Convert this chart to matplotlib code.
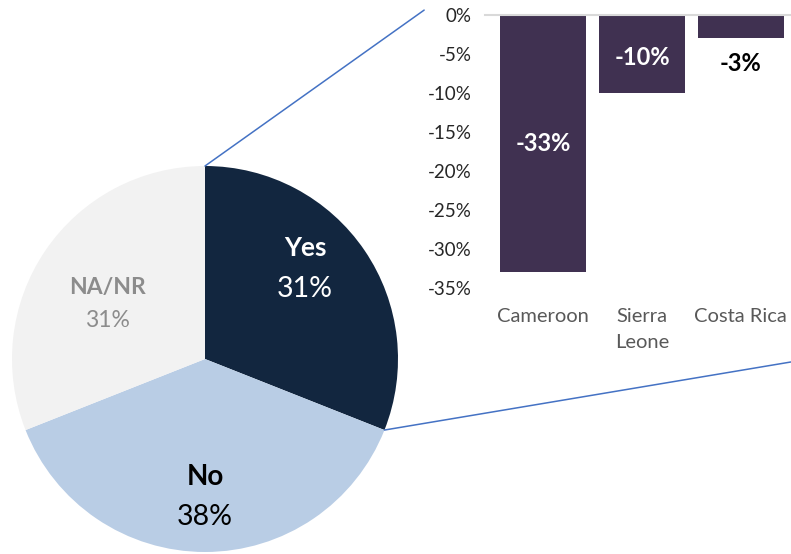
import matplotlib
matplotlib.use("Agg")
import matplotlib.pyplot as plt
from matplotlib.patches import ConnectionPatch
import numpy as np

plt.rcParams['font.family'] = ['Lato', 'DejaVu Sans']

# ---- data ----
pie_labels = ["Yes", "No", "NA/NR"]
pie_values = [31, 38, 31]
pie_colors = ["#12263F", "#B9CDE5", "#F2F2F2"]
pie_text_colors = ["white", "black", "#8C8C8C"]

countries = ["Cameroon", "Sierra\nLeone", "Costa Rica"]
changes = [-33, -10, -3]
bar_color = "#403151"
yticks = [0, -5, -10, -15, -20, -25, -30, -35]

W, H = 791, 554
fig = plt.figure(figsize=(W / 100, H / 100), dpi=100)

def px_rect(left, top, right, bottom):
    return [left / W, 1 - bottom / H, (right - left) / W, (bottom - top) / H]

# ---- pie ----
cx, cy, r = 205, 359, 193
ax_pie = fig.add_axes(px_rect(cx - r, cy - r, cx + r, cy + r))
wedges, _ = ax_pie.pie(pie_values, colors=pie_colors, startangle=90,
                       counterclock=False, radius=1,
                       wedgeprops=dict(linewidth=0))
ax_pie.set_xlim(-1, 1)
ax_pie.set_ylim(-1, 1)
ax_pie.set_aspect('equal')
ax_pie.axis('off')

label_pos = [(0.518, 0.47), (0.0, -0.715), (-0.503, 0.285)]
name_sizes = [19, 20, 16.5]
pct_sizes = [20.5, 20.5, 16.5]
gaps = [0.105, 0.105, 0.085]
for lab, val, col, (x, y), ns, ps, g in zip(pie_labels, pie_values, pie_text_colors,
                                           label_pos, name_sizes, pct_sizes, gaps):
    ax_pie.text(x, y + g, lab, ha='center', va='center', color=col,
                fontsize=ns, fontweight='bold')
    ax_pie.text(x, y - g, f"{val}%", ha='center', va='center', color=col,
                fontsize=ps)

# ---- bars ----
ax_bar = fig.add_axes(px_rect(494, 15, 790, 288))
xpos = np.arange(len(countries))
ax_bar.bar(xpos, changes, width=0.87, color=bar_color)
ax_bar.set_xlim(-0.5, len(countries) - 0.5)
ax_bar.set_ylim(-35, 0)
ax_bar.set_yticks(yticks)
ax_bar.set_yticklabels([f"{t}%" for t in yticks], fontsize=13.5, color="#262626")
ax_bar.set_xticks(xpos)
ax_bar.set_xticklabels(countries, fontsize=14.5, color="#595959", linespacing=1.65,
                       va='top')
ax_bar.tick_params(axis='both', length=0)
ax_bar.tick_params(axis='y', pad=16)
ax_bar.tick_params(axis='x', pad=14.5)
for s in ax_bar.spines.values():
    s.set_visible(False)
ax_bar.axhline(0, color="#D9D9D9", lw=1.5, xmin=-0.03, clip_on=False)

for x, v in zip(xpos, changes):
    if v <= -5:
        ax_bar.text(x, v / 2 - 0.4 if v > -20 else v / 2, f"{v}%", ha='center',
                    va='center', color='white', fontsize=17, fontweight='bold')
    else:
        ax_bar.text(x, v - 3.2, f"{v}%", ha='center', va='center', color='black',
                    fontsize=17, fontweight='bold')

# ---- connector lines ----
start_ang = 90
end_ang = start_ang - pie_values[0] / sum(pie_values) * 360
p_top = (np.cos(np.radians(start_ang)), np.sin(np.radians(start_ang)))
p_bot = (np.cos(np.radians(end_ang)), np.sin(np.radians(end_ang)))
line_color = "#4472C4"
for pa, pb in [(p_top, (-0.236, 1.018)), (p_bot, (1.003, -0.271))]:
    con = ConnectionPatch(xyA=pa, coordsA=ax_pie.transData,
                          xyB=pb, coordsB=ax_bar.transAxes,
                          color=line_color, lw=1.1)
    fig.add_artist(con)

fig.savefig("out.png", dpi=100)
